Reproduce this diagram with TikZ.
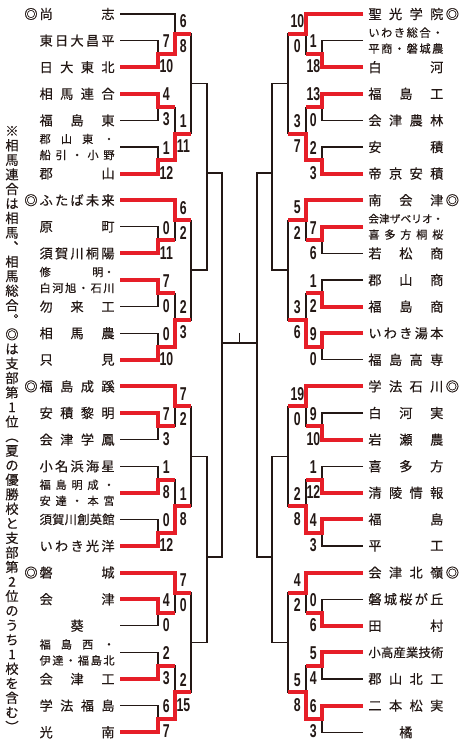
\documentclass[tikz,border=0pt]{standalone}
\usepackage{fontspec}
\newfontfamily\jpfont{Noto Sans CJK JP}[FakeBold=0.35]
\newfontfamily\numfont{Liberation Sans}[FakeStretch=0.66]
\definecolor{winred}{RGB}{230,30,40}
\definecolor{ink}{RGB}{35,24,21}
\newlength{\namewd}\setlength{\namewd}{37.5pt}
% spread the characters of a name over the name column
\newcommand{\spread}[1]{\makebox[\namewd][s]{\spreadloop#1\relax}}
\def\spreadloop#1#2{#1\ifx\relax#2\else\hfil\expandafter\spreadloop\expandafter#2\fi}
% one character per line, for the vertical note
\newcommand{\vstack}[1]{\vbox{\baselineskip=7.27pt\lineskiplimit=-5pt\vstackloop#1\relax}}
\def\vstackloop#1#2{\hbox to 7pt{\hss#1\hss}\ifx\relax#2\else\expandafter\vstackloop\expandafter#2\fi}
\tikzset{
  team/.style={font=\jpfont\fontsize{6.6}{8}\selectfont, text=ink, inner xsep=2.5pt, inner ysep=0pt},
  lteam/.style={team, anchor=east},
  rteam/.style={team, anchor=west},
  twoline/.style={font=\jpfont\fontsize{5.6}{8}\selectfont, align=center},
  bline/.style={draw=ink, line width=0.6pt},
  win/.style={draw=winred, line width=2pt, line join=miter},
  score/.style={font=\numfont\bfseries\fontsize{9.3}{10}\selectfont, text=ink, inner sep=0pt},
  lscore/.style={score, xshift=4.2pt},
  rscore/.style={score, xshift=-4.3pt},
  note/.style={font=\jpfont\fontsize{6.6}{7.27}\selectfont, text=ink, inner sep=0pt}
}
\begin{document}
\begin{tikzpicture}[x=0.5pt, y=-13.3pt]
\useasboundingbox (0,-0.5263) rectangle (466,27.4436);
\fill[white] (0,-0.5263) rectangle (466,27.4436);

% note
\node[note] (note) at (12,15.6) {\vstack{※相馬連合は相馬︑相馬総合︒◎は支部第1位︵夏の優勝校と支部第2位のうち1校を含む︶}};

% left teams
\node[lteam] (L0) at (120,0) {\llap{◎\hspace{1pt}}\spread{尚志}};
\node[lteam] (L1) at (120,1) {\spread{東日大昌平}};
\node[lteam] (L2) at (120,2) {\spread{日大東北}};
\node[lteam] (L3) at (120,3) {\spread{相馬連合}};
\node[lteam] (L4) at (120,4) {\spread{福島東}};
\node[lteam, twoline] (L5) at (120,5) {\spread{郡山東・}\\\spread{船引・小野}};
\node[lteam] (L6) at (120,6) {\spread{郡山}};
\node[lteam] (L7) at (120,7) {\llap{◎\hspace{1pt}}\spread{ふたば未来}};
\node[lteam] (L8) at (120,8) {\spread{原町}};
\node[lteam] (L9) at (120,9) {\spread{須賀川桐陽}};
\node[lteam, twoline] (L10) at (120,10) {\makebox[\namewd][s]{修\hfil 明・}\\\spread{白河旭・石川}};
\node[lteam] (L11) at (120,11) {\spread{勿来工}};
\node[lteam] (L12) at (120,12) {\spread{相馬農}};
\node[lteam] (L13) at (120,13) {\spread{只見}};
\node[lteam] (L14) at (120,14) {\llap{◎\hspace{1pt}}\spread{福島成蹊}};
\node[lteam] (L15) at (120,15) {\spread{安積黎明}};
\node[lteam] (L16) at (120,16) {\spread{会津学鳳}};
\node[lteam] (L17) at (120,17) {\spread{小名浜海星}};
\node[lteam, twoline] (L18) at (120,18) {\spread{福島明成・}\\\spread{安達・本宮}};
\node[lteam] (L19) at (120,19) {\fontsize{6.2}{8}\selectfont\spread{須賀川創英館}};
\node[lteam] (L20) at (120,20) {\spread{いわき光洋}};
\node[lteam] (L21) at (120,21) {\llap{◎\hspace{1pt}}\spread{磐城}};
\node[lteam] (L22) at (120,22) {\spread{会津}};
\node[lteam] (L23) at (120,23) {\makebox[\namewd]{葵}};
\node[lteam, twoline] (L24) at (120,24) {\spread{福島西・}\\\spread{伊達・福島北}};
\node[lteam] (L25) at (120,25) {\spread{会津工}};
\node[lteam] (L26) at (120,26) {\spread{学法福島}};
\node[lteam] (L27) at (120,27) {\spread{光南}};

% right teams
\node[rteam] (R0) at (363,0) {\spread{聖光学院}\rlap{\hspace{1.2pt}◎}};
\node[rteam, twoline] (R1) at (363,1) {\spread{いわき総合・}\\\spread{平商・磐城農}};
\node[rteam] (R2) at (363,2) {\spread{白河}};
\node[rteam] (R3) at (363,3) {\spread{福島工}};
\node[rteam] (R4) at (363,4) {\spread{会津農林}};
\node[rteam] (R5) at (363,5) {\spread{安積}};
\node[rteam] (R6) at (363,6) {\spread{帝京安積}};
\node[rteam] (R7) at (363,7) {\spread{南会津}\rlap{\hspace{1.2pt}◎}};
\node[rteam, twoline] (R8) at (363,8) {\fontsize{5.3}{8}\selectfont\spread{会津ザベリオ・}\\\spread{喜多方桐桜}};
\node[rteam] (R9) at (363,9) {\spread{若松商}};
\node[rteam] (R10) at (363,10) {\spread{郡山商}};
\node[rteam] (R11) at (363,11) {\spread{福島商}};
\node[rteam] (R12) at (363,12) {\spread{いわき湯本}};
\node[rteam] (R13) at (363,13) {\spread{福島高専}};
\node[rteam] (R14) at (363,14) {\spread{学法石川}\rlap{\hspace{1.2pt}◎}};
\node[rteam] (R15) at (363,15) {\spread{白河実}};
\node[rteam] (R16) at (363,16) {\spread{岩瀬農}};
\node[rteam] (R17) at (363,17) {\spread{喜多方}};
\node[rteam] (R18) at (363,18) {\spread{清陵情報}};
\node[rteam] (R19) at (363,19) {\spread{福島}};
\node[rteam] (R20) at (363,20) {\spread{平工}};
\node[rteam] (R21) at (363,21) {\spread{会津北嶺}\rlap{\hspace{1.2pt}◎}};
\node[rteam] (R22) at (363,22) {\spread{磐城桜が丘}};
\node[rteam] (R23) at (363,23) {\spread{田村}};
\node[rteam] (R24) at (363,24) {\fontsize{6.2}{8}\selectfont\spread{小高産業技術}};
\node[rteam] (R25) at (363,25) {\spread{郡山北工}};
\node[rteam] (R26) at (363,26) {\spread{二本松実}};
\node[rteam] (R27) at (363,27) {\makebox[\namewd]{橘}};

% blocks of seven: first round, second round, third round
\foreach \side/\ca/\cb/\cc/\an in {L/158/175/191/east, R/322/306/288/west}{
  \foreach \blk in {0,7,14,21}{
    \pgfmathtruncatemacro\ta{\blk+1}
    \pgfmathtruncatemacro\tb{\blk+2}
    \pgfmathtruncatemacro\tc{\blk+3}
    \pgfmathtruncatemacro\td{\blk+4}
    \pgfmathtruncatemacro\te{\blk+5}
    \pgfmathtruncatemacro\tf{\blk+6}
    \coordinate (\side\blk m1) at (\ca,\blk+1.5);
    \coordinate (\side\blk m2) at (\ca,\blk+3.5);
    \coordinate (\side\blk m3) at (\ca,\blk+5.5);
    \coordinate (\side\blk m4) at (\cb,\blk+0.75);
    \coordinate (\side\blk m5) at (\cb,\blk+4.5);
    \coordinate (\side\blk m6) at (\cc,\blk+2.625);
    \draw[bline] (\side\blk.\an) -| (\side\blk m4) |- (\side\blk m1);
    \draw[bline] (\side\ta.\an) -| (\side\blk m1) |- (\side\tb.\an);
    \draw[bline] (\side\tc.\an) -| (\side\blk m2) |- (\side\td.\an);
    \draw[bline] (\side\te.\an) -| (\side\blk m3) |- (\side\tf.\an);
    \draw[bline] (\side\blk m2) -| (\side\blk m5) |- (\side\blk m3);
    \draw[bline] (\side\blk m4) -| (\side\blk m6) |- (\side\blk m5);
  }
}

% quarter finals, semi finals, final
\coordinate (L4a) at (207,5.98);
\coordinate (L4b) at (207,20.41);
\coordinate (Lf) at (222,12.37);
\coordinate (R4a) at (272,5.98);
\coordinate (R4b) at (272,20.41);
\coordinate (Rf) at (257,12.37);
\coordinate (cup) at (239.5,11.99);
\draw[bline] (L0m6) -| (L4a) |- (L7m6);
\draw[bline] (L14m6) -| (L4b) |- (L21m6);
\draw[bline] (L4a) -| (Lf) |- (L4b);
\draw[bline] (R0m6) -| (R4a) |- (R7m6);
\draw[bline] (R14m6) -| (R4b) |- (R21m6);
\draw[bline] (R4a) -| (Rf) |- (R4b);
\draw[bline] (Lf) -- (Rf);
\draw[bline] (cup) -- (cup |- Lf);

% winners, left
\draw[win] (L2.east) -| (L0m1) -| (L0m4) -- (L0m4 -| L0m6);
\draw[win] (L3.east) -| (L0m2) -- (L0m2 -| L0m5);
\draw[win] (L6.east) -| (L0m3) -| (L0m5) -- (L0m5 -| L0m6);
\draw[win] (L7.east) -| (L7m4) -- (L7m4 -| L7m6);
\draw[win] (L9.east) -| (L7m1) -- (L7m1 -| L7m4);
\draw[win] (L10.east) -| (L7m2) -- (L7m2 -| L7m5);
\draw[win] (L13.east) -| (L7m3) -| (L7m5) -- (L7m5 -| L7m6);
\draw[win] (L14.east) -| (L14m4) -- (L14m4 -| L14m6);
\draw[win] (L15.east) -| (L14m1) -- (L14m1 -| L14m4);
\draw[win] (L18.east) -| (L14m2) -- (L14m2 -| L14m5);
\draw[win] (L20.east) -| (L14m3) -| (L14m5) -- (L14m5 -| L14m6);
\draw[win] (L21.east) -| (L21m4) -- (L21m4 -| L21m6);
\draw[win] (L22.east) -| (L21m1) -- (L21m1 -| L21m4);
\draw[win] (L25.east) -| (L21m2) -- (L21m2 -| L21m5);
\draw[win] (L27.east) -| (L21m3) -| (L21m5) -- (L21m5 -| L21m6);

% winners, right
\draw[win] (R0.west) -| (R0m4) -- (R0m4 -| R0m6);
\draw[win] (R2.west) -| (R0m1) -- (R0m1 -| R0m4);
\draw[win] (R3.west) -| (R0m2) -- (R0m2 -| R0m5);
\draw[win] (R6.west) -| (R0m3) -| (R0m5) -- (R0m5 -| R0m6);
\draw[win] (R7.west) -| (R7m4) -- (R7m4 -| R7m6);
\draw[win] (R8.west) -| (R7m1) -- (R7m1 -| R7m4);
\draw[win] (R11.west) -| (R7m2) -- (R7m2 -| R7m5);
\draw[win] (R12.west) -| (R7m3) -| (R7m5) -- (R7m5 -| R7m6);
\draw[win] (R14.west) -| (R14m4) -- (R14m4 -| R14m6);
\draw[win] (R16.west) -| (R14m1) -- (R14m1 -| R14m4);
\draw[win] (R18.west) -| (R14m2) -- (R14m2 -| R14m5);
\draw[win] (R19.west) -| (R14m3) -| (R14m5) -- (R14m5 -| R14m6);
\draw[win] (R21.west) -| (R21m4) -- (R21m4 -| R21m6);
\draw[win] (R23.west) -| (R21m1) -- (R21m1 -| R21m4);
\draw[win] (R24.west) -| (R21m2) -- (R21m2 -| R21m5);
\draw[win] (R26.west) -| (R21m3) -| (R21m5) -- (R21m5 -| R21m6);

% scores
\foreach \m/\up/\dn in {L0m1/7/10, L0m2/4/3, L0m3/1/12, L0m4/6/8, L0m5/1/11,
    L7m1/0/11, L7m2/7/0, L7m3/0/10, L7m4/6/2, L7m5/2/3,
    L14m1/7/3, L14m2/1/8, L14m3/0/12, L14m4/7/2, L14m5/1/8,
    L21m1/4/0, L21m2/2/3, L21m3/6/7, L21m4/7/0, L21m5/2/15}{
  \node[lscore, yshift=6.25pt] (\m t) at (\m) {\up};
  \node[lscore, yshift=-6.25pt] (\m b) at (\m) {\dn};
}
\foreach \m/\up/\dn in {R0m1/1/18, R0m2/13/0, R0m3/2/3, R0m4/10/0, R0m5/3/7,
    R7m1/7/6, R7m2/1/2, R7m3/9/0, R7m4/5/2, R7m5/3/6,
    R14m1/9/10, R14m2/1/12, R14m3/4/3, R14m4/19/0, R14m5/2/8,
    R21m1/0/6, R21m2/5/4, R21m3/6/3, R21m4/4/2, R21m5/5/8}{
  \node[rscore, yshift=6.25pt] (\m t) at (\m) {\up};
  \node[rscore, yshift=-6.25pt] (\m b) at (\m) {\dn};
}
\end{tikzpicture}
\end{document}
